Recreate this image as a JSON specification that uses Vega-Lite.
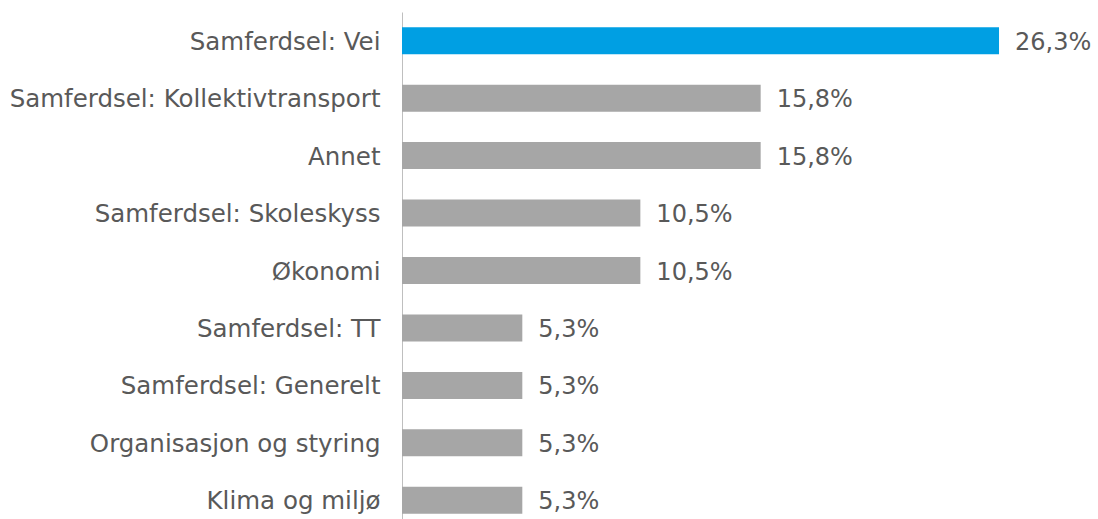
{
  "$schema": "https://vega.github.io/schema/vega-lite/v6.json",
  "width": 696,
  "height": 517,
  "autosize": {"type": "none"},
  "padding": {"left": 402, "top": 12, "right": 0, "bottom": 0},
  "background": "white",
  "config": {"view": {"stroke": null}, "font": "DejaVu Sans"},
  "data": {
    "values": [
      {"category": "Samferdsel: Vei", "value": 26.3, "label": "26,3%", "highlight": "yes"},
      {"category": "Samferdsel: Kollektivtransport", "value": 15.8, "label": "15,8%", "highlight": "no"},
      {"category": "Annet", "value": 15.8, "label": "15,8%", "highlight": "no"},
      {"category": "Samferdsel: Skoleskyss", "value": 10.5, "label": "10,5%", "highlight": "no"},
      {"category": "Økonomi", "value": 10.5, "label": "10,5%", "highlight": "no"},
      {"category": "Samferdsel: TT", "value": 5.3, "label": "5,3%", "highlight": "no"},
      {"category": "Samferdsel: Generelt", "value": 5.3, "label": "5,3%", "highlight": "no"},
      {"category": "Organisasjon og styring", "value": 5.3, "label": "5,3%", "highlight": "no"},
      {"category": "Klima og miljø", "value": 5.3, "label": "5,3%", "highlight": "no"}
    ]
  },
  "encoding": {
    "y": {
      "field": "category",
      "type": "nominal",
      "sort": null,
      "scale": {"paddingInner": 0.53, "paddingOuter": 0.265},
      "axis": {
        "title": null,
        "ticks": false,
        "domain": true,
        "domainColor": "#BFBFBF",
        "domainWidth": 1,
        "labelFontSize": 24.5,
        "labelColor": "#595959",
        "labelPadding": 22,
        "labelLimit": 400,
        "labelFont": "DejaVu Sans",
        "labelBaseline": "middle",
        "labelOffset": 2
      }
    },
    "x": {
      "field": "value",
      "type": "quantitative",
      "scale": {"domain": [0, 30.66], "nice": false},
      "axis": null
    }
  },
  "layer": [
    {
      "mark": {"type": "bar"},
      "encoding": {
        "color": {
          "field": "highlight",
          "type": "nominal",
          "scale": {"domain": ["yes", "no"], "range": ["#009FE3", "#A6A6A6"]},
          "legend": null
        }
      }
    },
    {
      "mark": {"type": "text", "align": "left", "baseline": "middle", "dx": 16, "dy": 2, "fontSize": 24, "color": "#595959", "font": "DejaVu Sans"},
      "encoding": {"text": {"field": "label"}}
    }
  ]
}
